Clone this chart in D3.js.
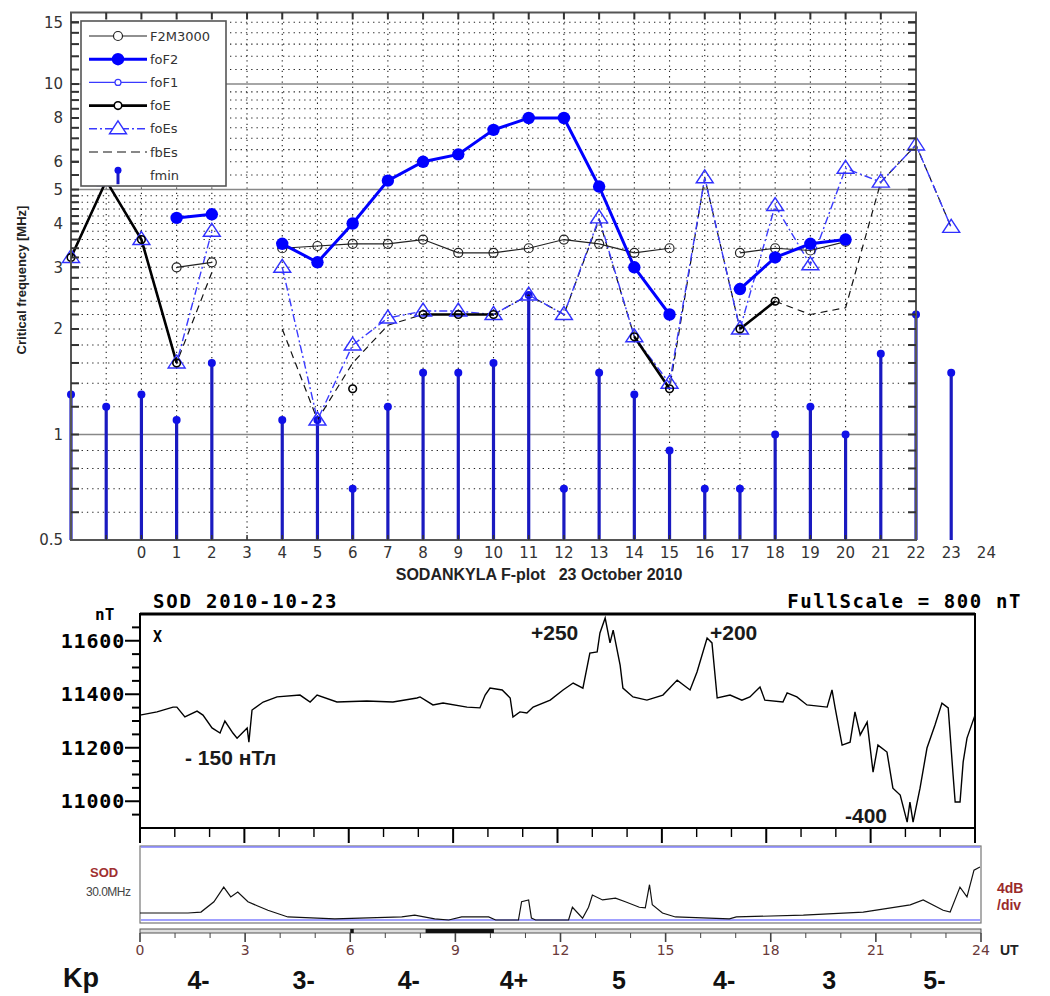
<!DOCTYPE html>
<html>
<head>
<meta charset="utf-8">
<script src="https://cdn.jsdelivr.net/npm/d3@7"></script>
<style>
body { margin: 0; background: #fff; }
svg { display: block; }
text { font-family: "Liberation Sans", Arial, sans-serif; }
</style>
</head>
<body>
<svg width="1050" height="996"></svg>
<script>
// --- ionosonde parameters, one value per hour (frame runs -2..22, 23 sits outside) ---
var hours   = [-2, -1, 0, 1, 2, 3, 4, 5, 6, 7, 8, 9, 10, 11, 12, 13, 14, 15, 16, 17, 18, 19, 20, 21, 22, 23];
var foF2    = [null, null, null, 4.15, 4.25, null, 3.5, 3.1, 4.0, 5.3, 6.0, 6.3, 7.4, 8.0, 8.0, 5.1, 3.0, 2.2, null, 2.6, 3.2, 3.5, 3.6, null, null, null];
var f2m3000 = [null, null, null, 3.0, 3.1, null, 3.4, 3.45, 3.5, 3.5, 3.6, 3.3, 3.3, 3.4, 3.6, 3.5, 3.3, 3.4, null, 3.3, 3.4, 3.35, 3.55, null, null, null];
var foE     = [3.2, 5.3, 3.6, 1.6, null, null, null, null, 1.35, null, 2.2, 2.2, 2.2, null, null, null, 1.9, 1.35, null, 2.0, 2.4, null, null, null, null, null];
var foEs    = [3.2, 5.3, 3.6, 1.6, 3.8, null, 3.0, 1.1, 1.8, 2.15, 2.25, 2.25, 2.2, 2.5, 2.2, 4.15, 1.9, 1.4, 5.4, 2.0, 4.5, 3.05, 5.75, 5.25, 6.7, 3.9];
var fbEs    = [3.2, 5.3, 3.6, 1.6, 2.9, null, 2.0, 1.1, 1.6, 2.05, 2.2, 2.2, 2.2, 2.5, 2.2, 4.1, 1.9, 1.35, 5.4, 2.0, 2.4, 2.2, 2.3, 5.25, 6.7, 3.9];
var fmin    = [1.3, 1.2, 1.3, 1.1, 1.6, null, 1.1, 1.1, 0.7, 1.2, 1.5, 1.5, 1.6, 2.5, 0.7, 1.5, 1.3, 0.9, 0.7, 0.7, 1.0, 1.2, 1.0, 1.7, 2.2, 1.5];
var foF1    = [];

var freqLabels = [0.5, 1, 2, 3, 4, 5, 6, 8, 10, 15];
var freqSolid  = [1, 5, 10];
var freqMinor  = [0.6, 0.7, 0.8, 0.9, 1.2, 1.4, 1.6, 1.8, 2, 2.2, 2.4, 2.6, 2.8, 3, 3.2, 3.4, 3.6, 3.8, 4, 4.2, 4.4, 4.6, 4.8,
                  5.5, 6, 6.5, 7, 7.5, 8, 8.5, 9, 9.5, 11, 12, 13, 14, 15];
var hourLabels = [0, 1, 2, 3, 4, 5, 6, 7, 8, 9, 10, 11, 12, 13, 14, 15, 16, 17, 18, 19, 20, 21, 22, 23, 24];

// --- magnetogram X component (UT hours, nT) ---
var magHours = [0, 0.49, 0.95, 1.06, 1.29, 1.64, 1.81, 2.07, 2.30, 2.44, 2.67, 2.79, 3.08, 3.13, 3.22, 3.54, 3.94, 4.60, 4.89, 5.09,
  5.66, 6.52, 7.27, 7.96, 8.05, 8.42, 8.71, 9.40, 9.77, 9.92, 10.06, 10.41, 10.64, 10.72, 10.92, 11.12, 11.30, 11.79, 12.16, 12.45,
  12.73, 12.93, 13.14, 13.22, 13.37, 13.51, 13.60, 13.80, 13.88, 14.17, 14.57, 15.03, 15.44, 15.81, 16.01, 16.30, 16.44, 16.59, 16.96, 17.30,
  17.53, 17.82, 17.96, 18.48, 18.60, 18.88, 19.17, 19.75, 19.89, 19.98, 20.18, 20.41, 20.55, 20.70, 20.90, 21.07, 21.21, 21.47, 21.64, 21.85,
  22.05, 22.13, 22.22, 22.42, 22.62, 22.85, 23.05, 23.23, 23.37, 23.43, 23.57, 23.66, 23.77, 24.00];
var magX = [11322, 11334, 11352, 11352, 11315, 11337, 11322, 11274, 11255, 11300, 11255, 11236, 11274, 11221, 11341, 11371, 11390, 11397, 11371, 11397,
  11371, 11375, 11371, 11386, 11390, 11360, 11367, 11352, 11349, 11397, 11423, 11416, 11386, 11315, 11334, 11330, 11352, 11378, 11416, 11442,
  11423, 11554, 11558, 11629, 11685, 11592, 11640, 11509, 11423, 11390, 11378, 11397, 11453, 11416, 11483, 11610, 11592, 11386, 11397, 11378,
  11390, 11427, 11378, 11371, 11405, 11390, 11360, 11352, 11416, 11349, 11210, 11221, 11334, 11248, 11296, 11109, 11210, 11184, 11049, 11023,
  10922, 10997, 10922, 11049, 11199, 11285, 11367, 11349, 11098, 10997, 10997, 11147, 11236, 11322];
var magLabels = [11000, 11200, 11400, 11600];
var magMinor = [10950, 11050, 11100, 11150, 11250, 11300, 11350, 11450, 11500, 11550, 11650];

// --- riometer 30 MHz absorption (UT hours, dB) ---
var rioHours = [0, 1.37, 1.74, 2.11, 2.39, 2.59, 2.79, 3.08, 3.36, 3.65, 4.22, 5.56, 7.47, 7.84, 8.41, 8.81, 9.18, 9.95, 10.15, 10.80,
  10.89, 11.09, 11.17, 11.29, 12.23, 12.34, 12.63, 12.80, 12.91, 13.20, 13.57, 13.85, 14.25, 14.42, 14.54, 14.62, 14.91, 15.28, 16.82, 17.02,
  18.93, 20.64, 21.98, 22.35, 22.92, 23.12, 23.40, 23.60, 23.80, 23.97];
var rioDb = [1.15, 1.15, 1.3, 3.0, 5.4, 3.8, 4.6, 3.0, 2.3, 1.6, 0.5, 0.2, 0.5, 0.8, 0.2, 0, 0.5, 0.5, 0, 0,
  3.0, 3.3, 0.3, 0, 0, 2.1, 0.3, 2.1, 4.1, 3.3, 3.6, 3.0, 2.1, 2.0, 5.8, 2.5, 1.15, 0.5, 0.2, 0.5,
  0.8, 1.3, 2.5, 3.3, 1.6, 1.3, 5.4, 3.8, 8.2, 8.7];
var utLabels = [0, 3, 6, 9, 12, 15, 18, 21, 24];
var dataBar = [[8.15, 10.1], [6.0, 6.1]];

// --- Kp per 3-hour interval ---
var kpHours  = [1.5, 4.5, 7.5, 10.5, 13.5, 16.5, 19.5, 22.5];
var kpLabels = ["4-", "3-", "4-", "4+", "5", "4-", "3", "5-"];

var svg = d3.select("svg");

// ================= top panel =================
var x = d3.scaleLinear().domain([-2, 22]).range([71, 916]);
var y = d3.scaleLog().domain([0.5, 16]).range([540, 12.5]);
var ion = svg.append("g");

function rows(vals) {
  return hours.map(function(h, i) { return {h: h, v: vals[i]}; });
}
var ok = function(d) { return d.v != null; };

// dotted grid
ion.selectAll(".hg").data(freqMinor).enter().append("line")
  .attr("x1", x(-2)).attr("x2", x(22))
  .attr("y1", d => y(d)).attr("y2", d => y(d))
  .attr("stroke", "#222").attr("stroke-width", 1.1).attr("stroke-dasharray", "1.3,4");
ion.selectAll(".vg").data(hours.filter(h => h > -2 && h < 22)).enter().append("line")
  .attr("x1", d => x(d)).attr("x2", d => x(d))
  .attr("y1", y(16)).attr("y2", y(0.5))
  .attr("stroke", "#222").attr("stroke-width", 1.1).attr("stroke-dasharray", "1.3,4");
ion.selectAll(".sg").data(freqSolid).enter().append("line")
  .attr("x1", x(-2)).attr("x2", x(22))
  .attr("y1", d => y(d)).attr("y2", d => y(d))
  .attr("stroke", "#888").attr("stroke-width", 1.6);

// fmin stems
var fm = rows(fmin).filter(ok);
ion.selectAll(".stem").data(fm).enter().append("line")
  .attr("x1", d => x(d.h)).attr("x2", d => x(d.h))
  .attr("y1", y(0.5)).attr("y2", d => y(d.v))
  .attr("stroke", "#1a1ac0").attr("stroke-width", 3.2);
ion.selectAll(".stemdot").data(fm).enter().append("circle")
  .attr("cx", d => x(d.h)).attr("cy", d => y(d.v)).attr("r", 4)
  .attr("fill", "#1010e8");

var line = d3.line().defined(ok).x(d => x(d.h)).y(d => y(d.v));

ion.append("path").attr("d", line(rows(fbEs)))
  .attr("fill", "none").attr("stroke", "#111").attr("stroke-width", 1.2).attr("stroke-dasharray", "7,5");
ion.append("path").attr("d", line(rows(foEs)))
  .attr("fill", "none").attr("stroke", "#3a3aff").attr("stroke-width", 1.4).attr("stroke-dasharray", "8,3,2,3");
ion.append("path").attr("d", line(rows(f2m3000)))
  .attr("fill", "none").attr("stroke", "#222").attr("stroke-width", 1.2);
ion.append("path").attr("d", line(rows(foE)))
  .attr("fill", "none").attr("stroke", "#000").attr("stroke-width", 2.6);
ion.append("path").attr("d", line(rows(foF2)))
  .attr("fill", "none").attr("stroke", "#0000ff").attr("stroke-width", 3);

var tri = "M0,-8L8.5,5L-8.5,5Z";
ion.selectAll(".tri").data(rows(foEs).filter(ok)).enter().append("path")
  .attr("d", tri).attr("transform", d => "translate(" + x(d.h) + "," + y(d.v) + ")")
  .attr("fill", "none").attr("stroke", "#3030ff").attr("stroke-width", 1.4);
ion.selectAll(".f2m").data(rows(f2m3000).filter(ok)).enter().append("circle")
  .attr("cx", d => x(d.h)).attr("cy", d => y(d.v)).attr("r", 4.5)
  .attr("fill", "none").attr("stroke", "#222").attr("stroke-width", 1.2);
ion.selectAll(".foe").data(rows(foE).filter(ok)).enter().append("circle")
  .attr("cx", d => x(d.h)).attr("cy", d => y(d.v)).attr("r", 3.8)
  .attr("fill", "none").attr("stroke", "#000").attr("stroke-width", 1.6);
ion.selectAll(".fof2").data(rows(foF2).filter(ok)).enter().append("circle")
  .attr("cx", d => x(d.h)).attr("cy", d => y(d.v)).attr("r", 6.2)
  .attr("fill", "#0000ff");

// frame and ticks
ion.append("rect").attr("x", x(-2)).attr("y", y(16))
  .attr("width", x(22) - x(-2)).attr("height", y(0.5) - y(16))
  .attr("fill", "none").attr("stroke", "#555").attr("stroke-width", 2);
var allF = freqMinor.concat(freqLabels.filter(f => f > 0.5));
ion.selectAll(".lt").data(allF).enter().append("line")
  .attr("x1", x(-2)).attr("x2", x(-2) + 8).attr("y1", d => y(d)).attr("y2", d => y(d))
  .attr("stroke", "#333").attr("stroke-width", 2);
ion.selectAll(".rt").data(allF).enter().append("line")
  .attr("x1", x(22) - 8).attr("x2", x(22)).attr("y1", d => y(d)).attr("y2", d => y(d))
  .attr("stroke", "#333").attr("stroke-width", 2);
ion.selectAll(".tt").data(hours.filter(h => h > -2 && h < 22)).enter().append("line")
  .attr("x1", d => x(d)).attr("x2", d => x(d)).attr("y1", y(16)).attr("y2", y(16) + 7)
  .attr("stroke", "#333").attr("stroke-width", 2);
ion.selectAll(".bt").data(hours.filter(h => h > -2 && h < 22)).enter().append("line")
  .attr("x1", d => x(d)).attr("x2", d => x(d)).attr("y1", y(0.5)).attr("y2", y(0.5) - 5)
  .attr("stroke", "#333").attr("stroke-width", 1.5);

ion.selectAll(".yl").data(freqLabels).enter().append("text")
  .attr("x", 63).attr("y", d => y(d)).attr("dy", "0.36em").attr("text-anchor", "end")
  .style("font-family", "DejaVu Sans").style("font-size", "15px").attr("fill", "#333")
  .text(d => String(d));
ion.selectAll(".xl").data(hourLabels).enter().append("text")
  .attr("x", d => x(d)).attr("y", 558).attr("text-anchor", "middle")
  .style("font-family", "DejaVu Sans").style("font-size", "15px").attr("fill", "#333")
  .text(d => d);
ion.append("text").attr("transform", "translate(26,280) rotate(-90)").attr("text-anchor", "middle")
  .style("font-weight", "bold").style("font-size", "13px").attr("fill", "#222")
  .text("Critical frequency [MHz]");
ion.append("text").attr("x", 539).attr("y", 580).attr("text-anchor", "middle")
  .style("font-weight", "bold").style("font-size", "16px").style("white-space", "pre").attr("fill", "#222")
  .text("SODANKYLA F-plot   23 October 2010");

// legend
var lg = ion.append("g");
lg.append("rect").attr("x", 81).attr("y", 21).attr("width", 145).attr("height", 165)
  .attr("fill", "#fff").attr("stroke", "#555").attr("stroke-width", 1.6);
var legendItems = [
  {name: "F2M3000", col: "#222", w: 1.2, dash: null, mark: "oc"},
  {name: "foF2", col: "#0000ff", w: 3, dash: null, mark: "big"},
  {name: "foF1", col: "#3a3aff", w: 1.2, dash: null, mark: "ob"},
  {name: "foE", col: "#000", w: 2.6, dash: null, mark: "oe"},
  {name: "foEs", col: "#3a3aff", w: 1.4, dash: "8,3,2,3", mark: "tri"},
  {name: "fbEs", col: "#111", w: 1.2, dash: "9,5", mark: null},
  {name: "fmin", col: null, w: 0, dash: null, mark: "stem"}
];
legendItems.forEach(function(it, i) {
  var ly = 36 + i * 23.2;
  if (it.col) {
    lg.append("line").attr("x1", 89).attr("x2", 147).attr("y1", ly).attr("y2", ly)
      .attr("stroke", it.col).attr("stroke-width", it.w).attr("stroke-dasharray", it.dash);
  }
  if (it.mark === "oc") lg.append("circle").attr("cx", 118).attr("cy", ly).attr("r", 4.5).attr("fill", "#fff").attr("stroke", "#222").attr("stroke-width", 1.2);
  if (it.mark === "big") lg.append("circle").attr("cx", 118).attr("cy", ly).attr("r", 6.2).attr("fill", "#0000ff");
  if (it.mark === "ob") lg.append("circle").attr("cx", 118).attr("cy", ly).attr("r", 3).attr("fill", "#fff").attr("stroke", "#3a3aff").attr("stroke-width", 1.2);
  if (it.mark === "oe") lg.append("circle").attr("cx", 118).attr("cy", ly).attr("r", 3.8).attr("fill", "#fff").attr("stroke", "#000").attr("stroke-width", 1.6);
  if (it.mark === "tri") lg.append("path").attr("d", tri).attr("transform", "translate(118," + ly + ")").attr("fill", "#fff").attr("stroke", "#3030ff").attr("stroke-width", 1.4);
  if (it.mark === "stem") {
    lg.append("line").attr("x1", 118).attr("x2", 118).attr("y1", ly - 5).attr("y2", ly + 9).attr("stroke", "#1a1ac0").attr("stroke-width", 3);
    lg.append("circle").attr("cx", 118).attr("cy", ly - 5).attr("r", 3.5).attr("fill", "#1010e8");
  }
  lg.append("text").attr("x", 150).attr("y", ly).attr("dy", "0.36em")
    .style("font-family", "DejaVu Sans").style("font-size", "13px").attr("fill", "#333").text(it.name);
});

// ================= magnetogram =================
var xm = d3.scaleLinear().domain([0, 24]).range([140, 975]);
var ym = d3.scaleLinear().domain([10900, 11700]).range([828, 614]);
var mag = svg.append("g");
var mono = "'DejaVu Sans Mono', monospace";

mag.append("line").attr("x1", 140).attr("x2", 975).attr("y1", 614).attr("y2", 614).attr("stroke", "#000").attr("stroke-width", 3);
mag.append("line").attr("x1", 140).attr("x2", 140).attr("y1", 613).attr("y2", 829).attr("stroke", "#000").attr("stroke-width", 2);
mag.append("line").attr("x1", 975).attr("x2", 975).attr("y1", 613).attr("y2", 829).attr("stroke", "#000").attr("stroke-width", 2);
mag.append("line").attr("x1", 140).attr("x2", 975).attr("y1", 828).attr("y2", 828).attr("stroke", "#000").attr("stroke-width", 2);

mag.selectAll(".mt").data(magMinor).enter().append("line")
  .attr("x1", 132).attr("x2", 140).attr("y1", d => ym(d)).attr("y2", d => ym(d))
  .attr("stroke", "#000").attr("stroke-width", 2);
mag.selectAll(".mT").data(magLabels).enter().append("line")
  .attr("x1", 125).attr("x2", 140).attr("y1", d => ym(d)).attr("y2", d => ym(d))
  .attr("stroke", "#000").attr("stroke-width", 2);
mag.selectAll(".ml").data(magLabels).enter().append("text")
  .attr("x", 125).attr("y", d => ym(d)).attr("dy", "0.36em").attr("text-anchor", "end")
  .style("font-family", mono).style("font-weight", "bold").style("font-size", "20px").style("letter-spacing", "0.8px")
  .text(d => d);
mag.selectAll(".hb").data(d3.range(0, 25)).enter().append("line")
  .attr("x1", d => xm(d)).attr("x2", d => xm(d)).attr("y1", 828).attr("y2", d => d % 3 === 0 ? 843 : 837)
  .attr("stroke", "#000").attr("stroke-width", d => d % 3 === 0 ? 2 : 1.4);

mag.append("text").attr("x", 95).attr("y", 620).style("font-family", mono).style("font-weight", "bold").style("font-size", "16px").text("nT");
mag.append("text").attr("x", 153).attr("y", 608).style("font-family", mono).style("font-weight", "bold").style("font-size", "19px").style("letter-spacing", "1.8px").text("SOD 2010-10-23");
mag.append("text").attr("x", 1022).attr("y", 608).attr("text-anchor", "end").style("font-family", mono).style("font-weight", "bold").style("font-size", "19px").style("letter-spacing", "1.6px").text("FullScale = 800 nT");
mag.append("text").attr("x", 153).attr("y", 642).style("font-family", mono).style("font-weight", "bold").style("font-size", "15px").text("X");

var magLine = d3.line().x(d => xm(d[0])).y(d => ym(d[1]));
mag.append("path").attr("d", magLine(d3.zip(magHours, magX)))
  .attr("fill", "none").attr("stroke", "#000").attr("stroke-width", 1.4);

var ann = [
  {t: "+250", x: 531, y: 640}, {t: "+200", x: 710, y: 640},
  {t: "- 150 нТл", x: 185, y: 765}, {t: "-400", x: 845, y: 823}
];
mag.selectAll(".ann").data(ann).enter().append("text")
  .attr("x", d => d.x).attr("y", d => d.y)
  .style("font-weight", "bold").style("font-size", "21px").attr("fill", "#1a1a1a")
  .text(d => d.t);

// ================= riometer =================
var xr = d3.scaleLinear().domain([0, 24]).range([140, 981]);
var yr = d3.scaleLinear().domain([0, 12]).range([920, 847]);
var rio = svg.append("g");

rio.append("rect").attr("x", 140).attr("y", 846).attr("width", 841).attr("height", 77)
  .attr("fill", "none").attr("stroke", "#777").attr("stroke-width", 1.2);
rio.selectAll(".bl").data([0, 12]).enter().append("line")
  .attr("x1", 141).attr("x2", 980).attr("y1", d => yr(d)).attr("y2", d => yr(d))
  .attr("stroke", "#8080ff").attr("stroke-width", 1.6);
var rioLine = d3.line().x(d => xr(d[0])).y(d => yr(d[1]));
rio.append("path").attr("d", rioLine(d3.zip(rioHours, rioDb)))
  .attr("fill", "none").attr("stroke", "#111").attr("stroke-width", 1.2);

rio.append("rect").attr("x", 140).attr("y", 929).attr("width", 841).attr("height", 4)
  .attr("fill", "#ddd").attr("stroke", "#555").attr("stroke-width", 1);
rio.selectAll(".bar").data(dataBar).enter().append("rect")
  .attr("x", d => xr(d[0])).attr("y", 929).attr("width", d => xr(d[1]) - xr(d[0])).attr("height", 4)
  .attr("fill", "#111");
rio.selectAll(".rt").data(d3.range(0, 25)).enter().append("line")
  .attr("x1", d => xr(d)).attr("x2", d => xr(d)).attr("y1", 933).attr("y2", d => d % 3 === 0 ? 942 : 938)
  .attr("stroke", "#444").attr("stroke-width", d => d % 3 === 0 ? 1.6 : 1);
rio.selectAll(".ul").data(utLabels).enter().append("text")
  .attr("x", d => xr(d)).attr("y", 955).attr("text-anchor", "middle")
  .style("font-family", "DejaVu Sans").style("font-size", "14px").attr("fill", "#6a3a3a")
  .text(d => d);
rio.append("text").attr("x", 1000).attr("y", 955).style("font-weight", "bold").style("font-size", "14px").attr("fill", "#222").text("UT");
rio.append("text").attr("x", 90).attr("y", 877).style("font-weight", "bold").style("font-size", "13px").attr("fill", "#a03030").text("SOD");
rio.append("text").attr("x", 86).attr("y", 896).style("font-size", "12px").style("letter-spacing", "-0.5px").attr("fill", "#444").text("30.0MHz");
rio.append("text").attr("x", 997).attr("y", 893).style("font-weight", "bold").style("font-size", "14px").attr("fill", "#9a2a2a").text("4dB");
rio.append("text").attr("x", 997).attr("y", 910).style("font-weight", "bold").style("font-size", "14px").attr("fill", "#9a2a2a").text("/div");

// Kp row
svg.append("text").attr("x", 63).attr("y", 987).style("font-weight", "bold").style("font-size", "27px").attr("fill", "#111").text("Kp");
svg.selectAll(".kp").data(kpLabels).enter().append("text")
  .attr("x", (d, i) => xr(kpHours[i]) + 6).attr("y", 989).attr("text-anchor", "middle")
  .style("font-weight", "bold").style("font-size", "25px").attr("fill", "#111")
  .text(d => d);
</script>
</body>
</html>
